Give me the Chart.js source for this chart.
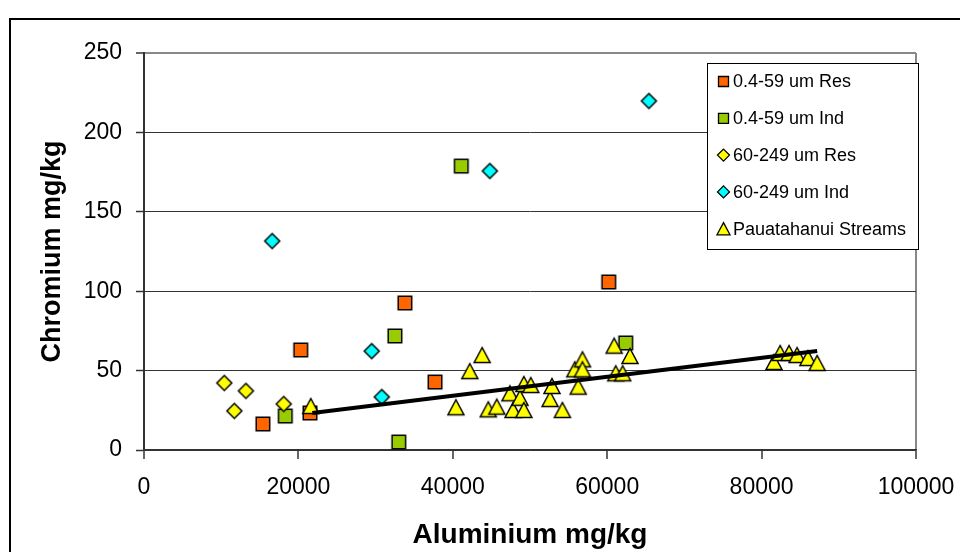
<!DOCTYPE html>
<html><head><meta charset="utf-8">
<script src="https://cdn.jsdelivr.net/npm/chart.js@4.4.0/dist/chart.umd.min.js"></script>
<style>html,body{margin:0;padding:0;background:#fff;overflow:hidden}#wrap{width:960px;height:552px;position:relative}</style>
</head><body><div id="wrap"><canvas id="c" width="960" height="552"></canvas></div>
<script>
// ---- data ----
const xTicks = [0, 20000, 40000, 60000, 80000, 100000];
const yTicks = [0, 50, 100, 150, 200, 250];
const seriesNames = ['0.4-59 um Res', '0.4-59 um Ind', '60-249 um Res', '60-249 um Ind', 'Pauatahanui Streams'];
const seriesColors = ['#FF6600', '#99CC00', '#FFFF00', '#00FFFF', '#FFFF00'];

const resFineAl = [15400, 20300, 21500, 33800, 37700, 60200];
const resFineCr = [16.4, 63, 23.3, 92.6, 42.8, 105.8];
const indFineAl = [18300, 32500, 33000, 41100, 62400];
const indFineCr = [21.4, 71.8, 5, 178.8, 67.4];
const resCoarseAl = [10400, 11700, 13200, 18100];
const resCoarseCr = [42.2, 24.6, 37.2, 29];
const indCoarseAl = [16600, 29500, 30800, 44800, 65400];
const indCoarseCr = [131.6, 62.3, 33.4, 175.7, 219.8];
const streamAl = [21600, 40400, 42200, 43800, 44600, 45700, 47400, 47800, 48700, 49200, 49200, 50100,
  52600, 52850, 54200, 55800, 56250, 56800, 56800, 60900, 61100, 62000, 62950,
  81600, 82400, 83550, 84600, 86000, 87200];
const streamCr = [27.7, 26.9, 49.7, 59.8, 25.6, 27.3, 35.7, 25.2, 32.9, 41.6, 25.2, 40.9,
  32.1, 40.3, 25.2, 50.8, 39.9, 57.1, 50.8, 65.7, 48.3, 48.3, 59.2,
  55.4, 61.1, 61.1, 59.8, 57.9, 54.8];
const trendAl = [21800, 87200];
const trendCr = [23.3, 62.3];

// ---- helpers ----
const FONT = '"Liberation Sans", Arial, sans-serif';
function pts(xs, ys) { return xs.map((x, i) => ({ x: x, y: ys[i] })); }
function shapePath(ctx, shape, cx, cy, s) {
  ctx.beginPath();
  if (shape === 'square') {
    ctx.rect(cx - s / 2, cy - s / 2, s, s);
  } else if (shape === 'diamond') {
    ctx.moveTo(cx, cy - s / 2); ctx.lineTo(cx + s / 2, cy); ctx.lineTo(cx, cy + s / 2); ctx.lineTo(cx - s / 2, cy); ctx.closePath();
  } else {
    const h = s * 0.94;
    ctx.moveTo(cx, cy - h / 2); ctx.lineTo(cx + s / 2, cy + h / 2); ctx.lineTo(cx - s / 2, cy + h / 2); ctx.closePath();
  }
}
function marker(shape, s, fill) {
  const c = document.createElement('canvas');
  const n = Math.ceil(s + 4);
  c.width = n; c.height = n;
  const ctx = c.getContext('2d');
  shapePath(ctx, shape, n / 2, n / 2, s);
  ctx.fillStyle = fill; ctx.fill();
  ctx.lineWidth = 1.5; ctx.strokeStyle = '#000'; ctx.stroke();
  return c;
}
const shapes = ['square', 'square', 'diamond', 'diamond', 'triangle'];
const sizes = [13.5, 13.5, 15, 15, 16];
const markers = shapes.map((s, i) => marker(s, sizes[i], seriesColors[i]));

const frame = {
  id: 'frame',
  beforeDraw(chart) {
    const ctx = chart.ctx;
    ctx.save();
    ctx.fillStyle = '#fff'; ctx.fillRect(0, 0, chart.width, chart.height);
    ctx.lineWidth = 2; ctx.strokeStyle = '#000';
    ctx.strokeRect(10, 19, 1000, 600);
    ctx.restore();
  }
};
const legendBox = {
  id: 'legendBox',
  afterDraw(chart) {
    const ctx = chart.ctx;
    ctx.save();
    ctx.fillStyle = '#fff'; ctx.fillRect(707, 63, 211, 186);
    ctx.lineWidth = 1; ctx.strokeStyle = '#000'; ctx.strokeRect(707.5, 63.5, 211, 186);
    const lsz = [10, 10, 12, 12, 13];
    ctx.font = '18px ' + FONT; ctx.textBaseline = 'middle'; ctx.textAlign = 'left';
    seriesNames.forEach((name, i) => {
      const y = 81.5 + i * 36.8;
      shapePath(ctx, shapes[i], 723.5, y, lsz[i]);
      ctx.fillStyle = seriesColors[i]; ctx.fill();
      ctx.lineWidth = 1.3; ctx.strokeStyle = '#000'; ctx.stroke();
      ctx.fillStyle = '#000';
      ctx.fillText(name, 733, y + 1);
    });
    ctx.restore();
  }
};

const ds = [
  [resFineAl, resFineCr], [indFineAl, indFineCr], [resCoarseAl, resCoarseCr],
  [indCoarseAl, indCoarseCr], [streamAl, streamCr]
].map((d, i) => ({
  type: 'scatter', label: seriesNames[i], data: pts(d[0], d[1]),
  pointStyle: markers[i], pointRadius: 8, order: 5 - i
}));
ds.push({
  type: 'line', label: 'trend', data: pts(trendAl, trendCr), showLine: true,
  borderColor: '#000', borderWidth: 4, pointRadius: 0, fill: false, order: -1
});

new Chart(document.getElementById('c'), {
  type: 'scatter',
  data: { datasets: ds },
  plugins: [frame, legendBox],
  options: {
    responsive: false, animation: false, devicePixelRatio: 1, events: [],
    layout: { padding: { top: 53, right: 44, bottom: 0, left: 0 } },
    plugins: { legend: { display: false }, tooltip: { enabled: false } },
    scales: {
      x: {
        type: 'linear', min: 0, max: 100000,
        afterBuildTicks: s => { s.ticks = xTicks.map(v => ({ value: v })); },
        afterFit: s => { s.height = 102; s.paddingLeft = 0; s.paddingRight = 0; },
        ticks: { callback: v => String(v), font: { family: FONT, size: 23 }, color: '#000', padding: 15, maxRotation: 0 },
        grid: {
          color: c => (c.tick && c.tick.value === 100000) ? '#888' : 'rgba(0,0,0,0)',
          lineWidth: 2, tickColor: '#333', tickLength: 9, tickWidth: 1.5, drawOnChartArea: true
        },
        border: { color: '#333', width: 1.5 },
        title: { display: true, text: 'Aluminium mg/kg', font: { family: FONT, size: 28, weight: 'bold' }, color: '#000', padding: { top: 0, bottom: 0 } }
      },
      y: {
        type: 'linear', min: 0, max: 250,
        afterBuildTicks: s => { s.ticks = yTicks.map(v => ({ value: v })); },
        afterFit: s => { s.width = 144; s.paddingTop = 0; s.paddingBottom = 0; },
        ticks: { callback: v => String(v), font: { family: FONT, size: 23 }, color: '#000', padding: 14 },
        grid: {
          color: c => (c.tick && c.tick.value === 250) ? '#888' : '#333',
          lineWidth: c => (c.tick && c.tick.value === 250) ? 2 : 1,
          tickColor: '#333', tickLength: 8, tickWidth: 1.5
        },
        border: { color: '#333', width: 2 },
        title: { display: true, text: 'Chromium mg/kg', font: { family: FONT, size: 27, weight: 'bold' }, color: '#000', padding: { top: 36, bottom: 0 } }
      }
    }
  }
});
</script>
</body></html>
